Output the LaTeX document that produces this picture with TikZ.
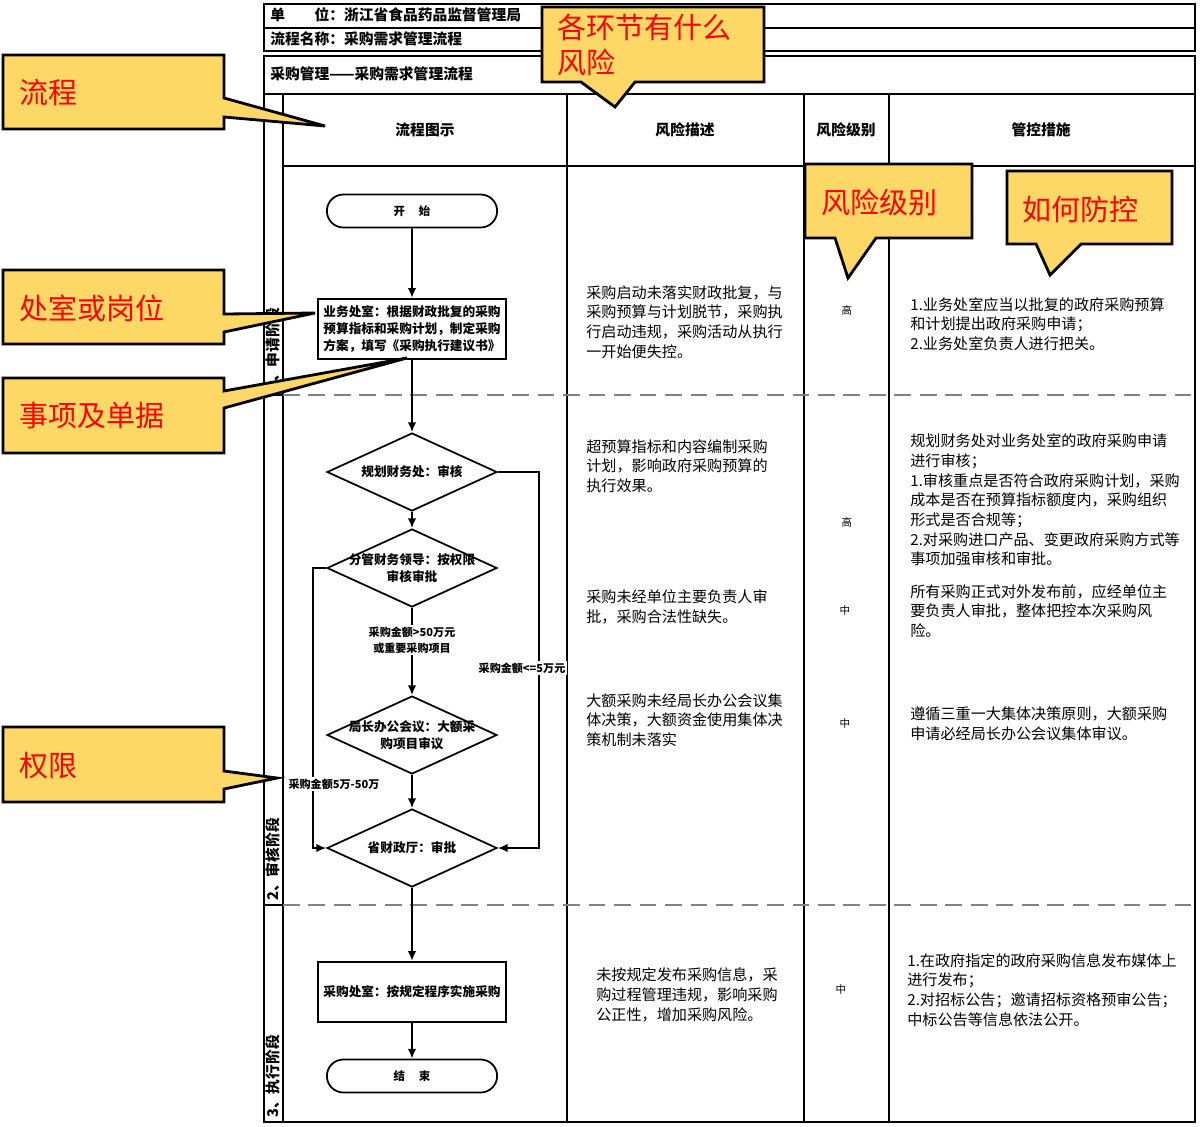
\documentclass[tikz,border=0pt]{standalone}
\usepackage{fontspec}
\setmainfont{Noto Sans CJK SC}
\usepackage{tikz}
\usetikzlibrary{shapes.geometric}
\usetikzlibrary{shapes.misc}
\usetikzlibrary{arrows.meta}
\usepackage{xcolor}
\definecolor{callyellow}{RGB}{253,216,102}
\definecolor{sepgray}{RGB}{130,130,130}

\begin{document}
\begin{tikzpicture}[x=0.02cm,y=-0.02cm,
  tabline/.style={line width=1.1pt},
  lanesep/.style={sepgray,dash pattern=on 9.5pt off 5pt,line width=0.9pt},
  flow/.style={line width=1pt,-{Latex[length=5.5pt,width=4.8pt]}},
  term/.style={draw,rounded rectangle,line width=1pt,minimum width=3.64cm,minimum height=0.66cm,font=\bfseries\fontsize{6.5}{8}\selectfont},
  proc/.style={draw,rectangle,line width=1.1pt,align=left,inner sep=3pt,minimum width=3.76cm,minimum height=1.21cm,font=\bfseries\fontsize{7.2}{9.6}\selectfont},
  dia/.style={draw,diamond,line width=1pt,minimum width=3.4cm,minimum height=1.56cm,inner sep=0pt},
  flowtxt/.style={align=center,inner sep=0pt,font=\bfseries\fontsize{7.2}{9.6}\selectfont},
  cond/.style={fill=white,inner sep=1pt,align=center,font=\bfseries\fontsize{6.3}{9}\selectfont},
  head/.style={anchor=west,inner sep=0pt,font=\bfseries\fontsize{8.4}{10}\selectfont},
  colhead/.style={font=\bfseries\fontsize{8.4}{10}\selectfont},
  body/.style={anchor=west,align=left,inner sep=0pt,font=\fontsize{8.6}{11.2}\selectfont},
  level/.style={font=\fontsize{6}{7}\selectfont},
  lane/.style={rotate=90,anchor=west,inner sep=1pt,font=\bfseries\fontsize{8.4}{10}\selectfont},
  callout/.style={fill=callyellow,draw=black,line width=1.6pt,line join=miter},
  calltxt/.style={anchor=west,text=red,align=left,inner sep=0pt,font=\fontsize{16.5}{19.5}\selectfont}]
\useasboundingbox (0,0) rectangle (1202,1126);

\draw[tabline] (264,4) rectangle (1195,51);
\draw[tabline] (264,28) -- (1195,28);
\draw[tabline] (264,56) rectangle (1195,1122);
\draw[tabline] (264,94) -- (1195,94);
\draw[tabline] (283,166) -- (1195,166);
\foreach \cx in {283,567,804,889}
  \draw[tabline] (\cx,94) -- (\cx,1122);
\foreach \sy in {395,905}{
  \draw[tabline] (264,\sy) -- (283,\sy);
  \draw[lanesep] (283,\sy) -- (1195,\sy);
}

\node[head] (unit) at (270,15) {单\hspace{2em}位：浙江省食品药品监督管理局};
\node[head] (pname) at (270,39) {流程名称：采购需求管理流程};
\node[head] (ptitle) at (270,74) {采购管理——采购需求管理流程};
\node[colhead] (hflow) at (425,130) {流程图示};
\node[colhead] (hrisk) at (685,130) {风险描述};
\node[colhead] (hlevel) at (846,130) {风险级别};
\node[colhead] (hctrl) at (1041,130) {管控措施};

\node[lane] (lane1) at (273,393) {1、申请阶段};
\node[lane] (lane2) at (273,903) {2、审核阶段};
\node[lane] (lane3) at (273,1120) {3、执行阶段};

\node[term] (start) at (412,211) {开\hspace{1.2em}始};
\node[proc] (apply) at (412,329) {业务处室：根据财政批复的采购\\预算指标和采购计划，制定采购\\方案，填写《采购执行建议书》};
\node[dia] (d1) at (412,472) {};
\node[flowtxt] (d1t) at (d1) {规划财务处：审核};
\node[dia] (d2) at (412,568) {};
\node[flowtxt] (d2t) at (d2) {分管财务领导：按权限\\审核审批};
\node[dia] (d3) at (412,735) {};
\node[flowtxt] (d3t) at (d3) {局长办公会议：大额采\\购项目审议};
\node[dia] (d4) at (412,848) {};
\node[flowtxt] (d4t) at (d4) {省财政厅：审批};
\node[proc] (exec) at (412,992) {采购处室：按规定程序实施采购};
\node[term] (stop) at (412,1076) {结\hspace{1.2em}束};

\draw[flow] (start) -- (apply);
\draw[flow] (apply) -- (d1);
\draw[flow] (d1) -- (d2);
\draw[flow] (d2) -- (d3);
\draw[flow] (d3) -- (d4);
\draw[flow] (d1.east) -- ++(41,0) |- (d4.east);
\draw[flow] (d2.west) -- ++(-13,0) |- (d4.west);
\draw[flow] (d4) -- (exec);
\draw[flow] (exec) -- (stop);

\node[cond] (big) at (412,640) {采购金额>50万元\\或重要采购项目};
\node[cond] (small) at (522,668) {采购金额<=5万元};
\node[cond] (mid) at (334,784) {采购金额5万-50万};

\node[body] (r1) at (586,322) {采购启动未落实财政批复，与\\采购预算与计划脱节，采购执\\行启动违规，采购活动从执行\\一开始便失控。};
\node[body] (r2) at (586,466) {超预算指标和内容编制采购\\计划，影响政府采购预算的\\执行效果。};
\node[body] (r3) at (586,607) {采购未经单位主要负责人审\\批，采购合法性缺失。};
\node[body] (r4) at (586,720) {大额采购未经局长办公会议集\\体决策，大额资金使用集体决\\策机制未落实};
\node[body] (r5) at (596,995) {未按规定发布采购信息，采\\购过程管理违规，影响采购\\公正性，增加采购风险。};

\node[level] (l1) at (847,310) {高};
\node[level] (l2) at (847,522) {高};
\node[level] (l3) at (845,610) {中};
\node[level] (l4) at (845,723) {中};
\node[level] (l5) at (841,989) {中};

\node[body] (c1) at (910,324) {1.业务处室应当以批复的政府采购预算\\和计划提出政府采购申请；\\2.业务处室负责人进行把关。};
\node[body] (c2) at (910,500) {规划财务处对业务处室的政府采购申请\\进行审核；\\1.审核重点是否符合政府采购计划，采购\\成本是否在预算指标额度内，采购组织\\形式是否合规等；\\2.对采购进口产品、变更政府采购方式等\\事项加强审核和审批。};
\node[body] (c3) at (910,611) {所有采购正式对外发布前，应经单位主\\要负责人审批，整体把控本次采购风\\险。};
\node[body] (c4) at (910,724) {遵循三重一大集体决策原则，大额采购\\申请必经局长办公会议集体审议。};
\node[body] (c5) at (907,990) {1.在政府指定的政府采购信息发布媒体上\\进行发布；\\2.对招标公告；邀请招标资格预审公告；\\中标公告等信息依法公开。};

\draw[callout] (3,55) -- (224,55) -- (224,98) -- (325,126) -- (224,117) -- (224,129) -- (3,129) -- cycle;
\node[calltxt] (tflow) at (19,92) {流程};
\draw[callout] (3,270) -- (224,270) -- (224,314) -- (315,313) -- (224,332) -- (224,344) -- (3,344) -- cycle;
\node[calltxt] (tpost) at (19,308) {处室或岗位};
\draw[callout] (3,378) -- (224,378) -- (224,391) -- (407,358) -- (224,408) -- (224,453) -- (3,453) -- cycle;
\node[calltxt] (titem) at (19,416) {事项及单据};
\draw[callout] (3,727) -- (224,727) -- (224,771) -- (277,778) -- (224,789) -- (224,802) -- (3,802) -- cycle;
\node[calltxt] (tauth) at (19,766) {权限};
\draw[callout] (542,7) -- (764,7) -- (764,82) -- (635,82) -- (615,107) -- (581,82) -- (542,82) -- cycle;
\node[calltxt] (trisk) at (557,45) {各环节有什么\\风险};
\draw[callout] (805,164) -- (972,164) -- (972,238) -- (876,238) -- (848,278) -- (835,238) -- (805,238) -- cycle;
\node[calltxt] (tlevel) at (821,202) {风险级别};
\draw[callout] (1007,171) -- (1172,171) -- (1172,244) -- (1081,244) -- (1050,275) -- (1036,244) -- (1007,244) -- cycle;
\node[calltxt] (tctrl) at (1022,209) {如何防控};
\end{tikzpicture}
\end{document}
